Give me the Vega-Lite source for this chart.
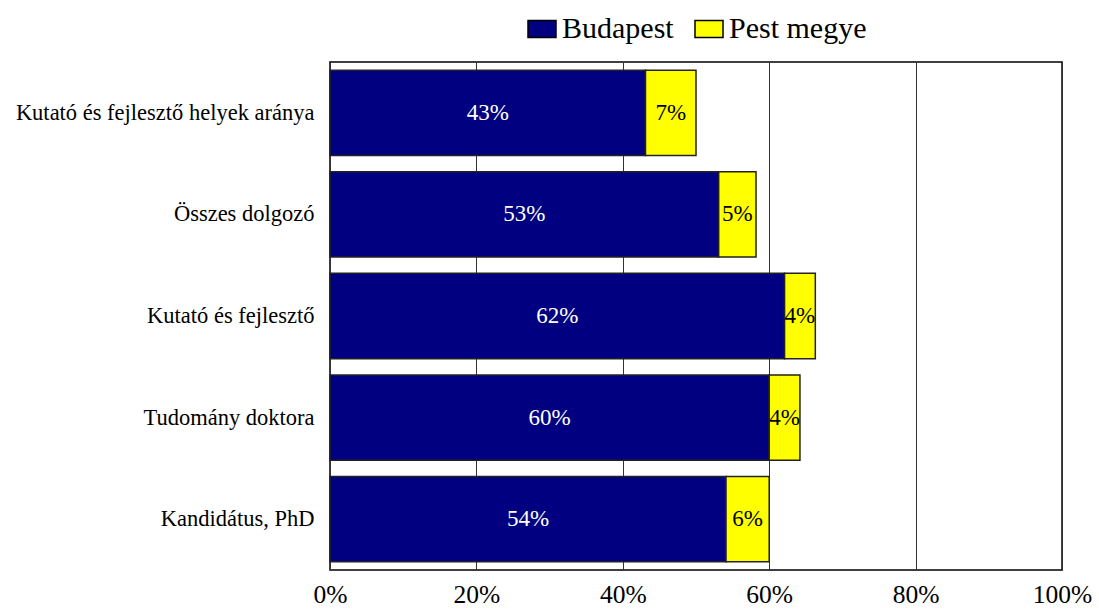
{
  "$schema": "https://vega.github.io/schema/vega-lite/v6.json",
  "autosize": {"type": "none"},
  "width": 732,
  "height": 508,
  "padding": {"left": 330, "top": 62, "right": 37, "bottom": 42},
  "background": "white",
  "config": {
    "font": "Liberation Serif",
    "view": {"stroke": "black", "strokeWidth": 1.5},
    "axis": {"labelFont": "Liberation Serif", "labelColor": "black"}
  },
  "data": {
    "values": [
      {"category": "Kutató és fejlesztő helyek aránya", "series": "Budapest", "value": 0.431},
      {"category": "Kutató és fejlesztő helyek aránya", "series": "Pest megye", "value": 0.069},
      {"category": "Összes dolgozó", "series": "Budapest", "value": 0.531},
      {"category": "Összes dolgozó", "series": "Pest megye", "value": 0.051},
      {"category": "Kutató és fejlesztő", "series": "Budapest", "value": 0.621},
      {"category": "Kutató és fejlesztő", "series": "Pest megye", "value": 0.042},
      {"category": "Tudomány doktora", "series": "Budapest", "value": 0.600},
      {"category": "Tudomány doktora", "series": "Pest megye", "value": 0.042},
      {"category": "Kandidátus, PhD", "series": "Budapest", "value": 0.541},
      {"category": "Kandidátus, PhD", "series": "Pest megye", "value": 0.059}
    ]
  },
  "transform": [
    {"calculate": "datum.series === 'Budapest' ? 0 : 1", "as": "ord"},
    {"stack": "value", "groupby": ["category"], "sort": [{"field": "ord", "order": "ascending"}], "as": ["x0", "x1"]},
    {"calculate": "(datum.x0 + datum.x1) / 2", "as": "xmid"}
  ],
  "encoding": {
    "y": {
      "field": "category",
      "type": "nominal",
      "sort": ["Kutató és fejlesztő helyek aránya", "Összes dolgozó", "Kutató és fejlesztő", "Tudomány doktora", "Kandidátus, PhD"],
      "scale": {"paddingInner": 0.16, "paddingOuter": 0.08},
      "axis": {"title": null, "ticks": false, "domain": false, "labelFontSize": 22.5, "labelPadding": 16, "labelLimit": 400}
    }
  },
  "layer": [
    {
      "mark": {"type": "bar", "stroke": "#222222", "strokeWidth": 1.5},
      "encoding": {
        "x": {
          "field": "x0",
          "type": "quantitative",
          "scale": {"domain": [0, 1], "nice": false},
          "axis": {"title": null, "format": ".0%", "values": [0, 0.2, 0.4, 0.6, 0.8, 1], "grid": true, "gridColor": "#333333", "gridWidth": 1, "gridOpacity": 1, "ticks": false, "domain": false, "labelFontSize": 25.5, "labelPadding": 12, "labelFlush": false}
        },
        "x2": {"field": "x1"},
        "color": {
          "field": "series",
          "type": "nominal",
          "scale": {"domain": ["Budapest", "Pest megye"], "range": ["#000080", "#FFFF00"]},
          "legend": {
            "title": null,
            "orient": "none",
            "direction": "horizontal",
            "legendX": 197,
            "legendY": -48,
            "symbolType": "M-1,-0.6H1V0.6H-1Z",
            "symbolSize": 784,
            "symbolStrokeColor": "black",
            "symbolStrokeWidth": 1.5,
            "symbolOpacity": 1,
            "labelFontSize": 30,
            "labelFont": "Liberation Serif",
            "labelColor": "black",
            "labelOffset": 5,
            "columnPadding": 18
          }
        }
      }
    },
    {
      "mark": {"type": "text", "fontSize": 23, "font": "Liberation Serif", "align": "center", "baseline": "middle"},
      "encoding": {
        "x": {"field": "xmid", "type": "quantitative"},
        "text": {"field": "value", "type": "quantitative", "format": ".0%"},
        "color": {"condition": {"test": "datum.series === 'Budapest'", "value": "white"}, "value": "black"}
      }
    }
  ]
}
